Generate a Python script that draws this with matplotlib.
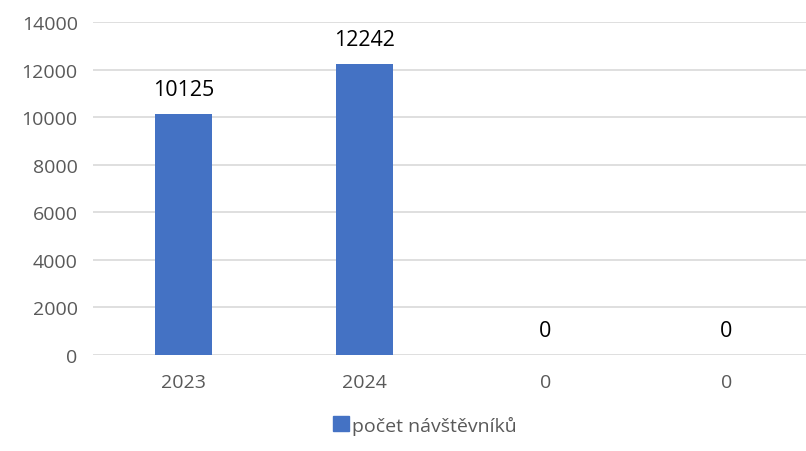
import matplotlib.pyplot as plt
from matplotlib.patches import Patch

categories = ['2023', '2024', '0', '0']
visitors = [10125, 12242, 0, 0]
series_name = 'počet návštěvníků'
y_ticks = [0, 2000, 4000, 6000, 8000, 10000, 12000, 14000]

plt.rcParams['font.family'] = ['Open Sans', 'DejaVu Sans']

fig = plt.figure(figsize=(8.06, 4.52), dpi=100)
ax = fig.add_axes([93 / 806, 1 - 356 / 452, 724 / 806, 333 / 452])

x = list(range(len(categories)))
bars = ax.bar(x, visitors, width=0.31, color='#4472C4', zorder=3)

ax.set_xlim(-0.5, len(categories) - 0.5)
ax.set_ylim(0, 14000)
ax.set_yticks(y_ticks)
ax.set_yticklabels([str(v) for v in y_ticks])
ax.set_xticks(x)
ax.set_xticklabels(categories)
ax.tick_params(axis='both', length=0, labelsize=14, colors='#595959')
ax.tick_params(axis='x', pad=13)
ax.tick_params(axis='y', pad=11)
ax.yaxis.grid(True, color='#D9D9D9', linewidth=1.2, zorder=0)
for s in ax.spines.values():
    s.set_visible(False)

for xi, v in zip(x, visitors):
    ax.annotate(str(v), (xi, v), xytext=(0, 14), textcoords='offset pixels',
                ha='center', va='bottom', fontsize=15.5, color='black')

handle = Patch(color='#4472C4')
fig.legend([handle], [series_name], loc='center', bbox_to_anchor=(425 / 806, 1 - 426 / 452),
           frameon=False, fontsize=14, labelcolor='#595959', handlelength=0.8,
           handleheight=0.8, handletextpad=0.2)

fig.savefig('out.png', dpi=100)
